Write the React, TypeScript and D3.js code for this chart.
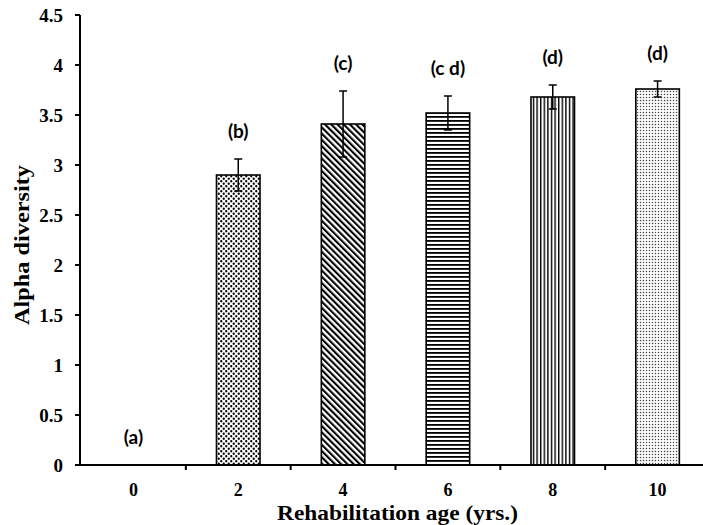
import React, { useEffect, useRef } from 'react';
import * as d3 from 'd3';

// rehabilitation age categories and measured alpha diversity
const ages = ['0', '2', '4', '6', '8', '10'];
const alpha = [0, 2.9, 3.41, 3.52, 3.68, 3.76];
const errors = [0, 0.16, 0.33, 0.17, 0.12, 0.08];
const letters = ['(a)', '(b)', '(c)', '(c d)', '(d)', '(d)'];
const yTicks = [0, 0.5, 1, 1.5, 2, 2.5, 3, 3.5, 4, 4.5];
const patterns = ['none', 'dots', 'diag', 'hlines', 'vlines', 'fine'];

const W = 703;
const H = 525;

const App = () => {
  const ref = useRef<SVGSVGElement>(null);

  useEffect(() => {
    const svg = d3.select(ref.current);
    svg.selectAll('*').remove();

    const x = d3.scaleBand().domain(ages).range([81, 710]).paddingInner(0.585).paddingOuter(0.2925);
    const y = d3.scaleLinear().domain([0, 4.5]).range([465, 15]);

    // fill patterns
    const defs = svg.append('defs');
    const dots = defs.append('pattern').attr('id', 'dots').attr('patternUnits', 'userSpaceOnUse')
      .attr('width', 5).attr('height', 5);
    dots.append('rect').attr('width', 5).attr('height', 5).attr('fill', '#fff');
    dots.append('circle').attr('cx', 1.25).attr('cy', 1.25).attr('r', 1.15).attr('fill', '#000');
    dots.append('circle').attr('cx', 3.75).attr('cy', 3.75).attr('r', 1.15).attr('fill', '#000');

    const diag = defs.append('pattern').attr('id', 'diag').attr('patternUnits', 'userSpaceOnUse')
      .attr('width', 4.4).attr('height', 10).attr('patternTransform', 'rotate(-45)');
    diag.append('rect').attr('width', 4.4).attr('height', 10).attr('fill', '#fff');
    diag.append('rect').attr('width', 2.1).attr('height', 10).attr('fill', '#000');

    const hl = defs.append('pattern').attr('id', 'hlines').attr('patternUnits', 'userSpaceOnUse')
      .attr('width', 10).attr('height', 4);
    hl.append('rect').attr('width', 10).attr('height', 4).attr('fill', '#fff');
    hl.append('rect').attr('width', 10).attr('height', 1.8).attr('fill', '#000');

    const vl = defs.append('pattern').attr('id', 'vlines').attr('patternUnits', 'userSpaceOnUse')
      .attr('width', 3.6).attr('height', 10);
    vl.append('rect').attr('width', 3.6).attr('height', 10).attr('fill', '#fff');
    vl.append('rect').attr('width', 1.4).attr('height', 10).attr('fill', '#000');

    const fine = defs.append('pattern').attr('id', 'fine').attr('patternUnits', 'userSpaceOnUse')
      .attr('width', 3).attr('height', 3);
    fine.append('rect').attr('width', 3).attr('height', 3).attr('fill', '#fff');
    fine.append('circle').attr('cx', 1.5).attr('cy', 1.5).attr('r', 0.75).attr('fill', '#444');

    svg.append('rect').attr('width', W).attr('height', H).attr('fill', '#fff');

    // bars
    svg.selectAll('.bar')
      .data(ages)
      .enter()
      .filter((d, i) => alpha[i] > 0)
      .append('rect')
      .attr('class', 'bar')
      .attr('x', (d) => x(d)!)
      .attr('y', (d) => y(alpha[ages.indexOf(d)]))
      .attr('width', x.bandwidth())
      .attr('height', (d) => y(0) - y(alpha[ages.indexOf(d)]))
      .attr('fill', (d) => `url(#${patterns[ages.indexOf(d)]})`)
      .attr('stroke', '#000')
      .attr('stroke-width', 1.6);

    // error bars
    const eb = svg.append('g').attr('stroke', '#000').attr('stroke-width', 1.5);
    ages.forEach((a, i) => {
      if (errors[i] === 0) return;
      const cx = x(a)! + x.bandwidth() / 2;
      const lo = y(alpha[i] - errors[i]);
      const hi = y(alpha[i] + errors[i]);
      eb.append('line').attr('x1', cx).attr('x2', cx).attr('y1', lo).attr('y2', hi);
      eb.append('line').attr('x1', cx - 4).attr('x2', cx + 4).attr('y1', hi).attr('y2', hi);
      eb.append('line').attr('x1', cx - 4).attr('x2', cx + 4).attr('y1', lo).attr('y2', lo);
    });

    // significance letters
    svg.selectAll('.letter')
      .data(letters)
      .enter()
      .append('text')
      .attr('x', (d, i) => x(ages[i])! + x.bandwidth() / 2)
      .attr('y', (d, i) => y(alpha[i] + errors[i]) - 21)
      .attr('text-anchor', 'middle')
      .attr('font-family', 'Lato, sans-serif')
      .attr('font-weight', 700)
      .attr('font-size', 19)
      .text((d) => d);

    // axes
    const xAxis = svg.append('g').attr('transform', `translate(0,${y(0)})`);
    xAxis.append('line').attr('x1', 80).attr('x2', 711).attr('stroke', '#000').attr('stroke-width', 2);
    const bounds = ages.map((a) => x(a)! - (x.step() - x.bandwidth()) / 2).slice(1).concat([710]);
    xAxis.selectAll('.xt').data(bounds).enter().append('line')
      .attr('x1', (d) => d).attr('x2', (d) => d).attr('y1', 0).attr('y2', 5)
      .attr('stroke', '#000').attr('stroke-width', 2);
    xAxis.selectAll('.xl').data(ages).enter().append('text')
      .attr('x', (d) => x(d)! + x.bandwidth() / 2)
      .attr('y', 31)
      .attr('text-anchor', 'middle')
      .attr('font-family', '"Liberation Serif", serif')
      .attr('font-weight', 700)
      .attr('font-size', 18)
      .text((d) => d);

    const yAxis = svg.append('g').attr('transform', 'translate(80,0)');
    yAxis.append('line').attr('y1', y(0) + 1).attr('y2', y(4.5)).attr('stroke', '#000').attr('stroke-width', 2);
    yAxis.selectAll('.yt').data(yTicks).enter().append('line')
      .attr('x1', -5).attr('x2', 0).attr('y1', (d) => y(d)).attr('y2', (d) => y(d))
      .attr('stroke', '#000').attr('stroke-width', 2);
    yAxis.selectAll('.yl').data(yTicks).enter().append('text')
      .attr('x', -17)
      .attr('y', (d) => y(d))
      .attr('dy', '0.35em')
      .attr('text-anchor', 'end')
      .attr('font-family', '"Liberation Serif", serif')
      .attr('font-weight', 700)
      .attr('font-size', 19)
      .text((d) => String(d));

    // axis titles
    svg.append('text')
      .attr('x', 277).attr('y', 520)
      .attr('font-family', '"Liberation Serif", serif')
      .attr('font-weight', 700)
      .attr('font-size', 21)
      .attr('textLength', 241)
      .attr('lengthAdjust', 'spacingAndGlyphs')
      .text('Rehabilitation age (yrs.)');

    svg.append('text')
      .attr('transform', 'translate(29,325) rotate(-90)')
      .attr('font-family', '"Liberation Serif", serif')
      .attr('font-weight', 700)
      .attr('font-size', 22)
      .attr('textLength', 160)
      .attr('lengthAdjust', 'spacingAndGlyphs')
      .text('Alpha diversity');
  }, []);

  return (
    <svg ref={ref} width={W} height={H} style={{ position: 'absolute', left: 0, top: 0 }} />
  );
};

export default App;
